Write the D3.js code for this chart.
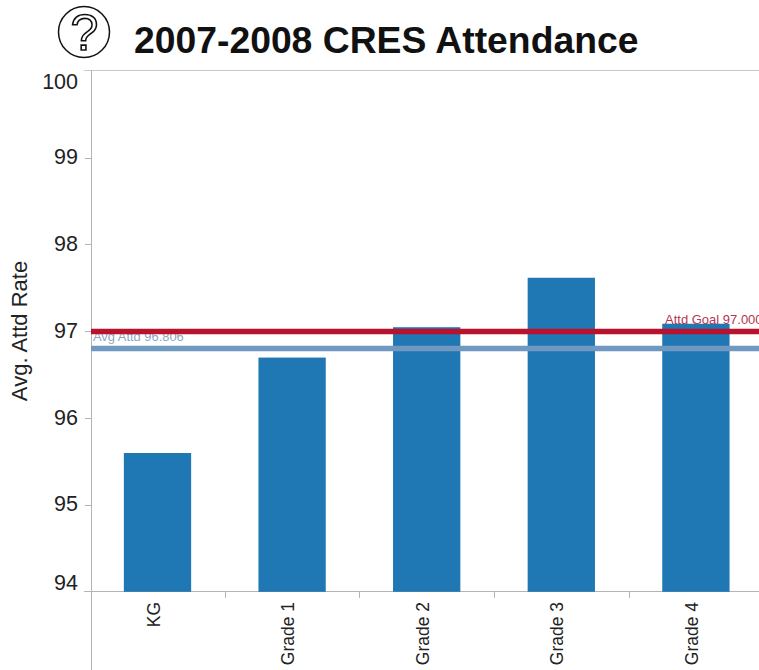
<!DOCTYPE html>
<html><head><meta charset="utf-8">
<script src="https://cdn.jsdelivr.net/npm/d3@7/dist/d3.min.js"></script>
<style>html,body{margin:0;padding:0;background:#fff;overflow:hidden}svg{display:block}text{font-family:"Liberation Sans",Arial,sans-serif}</style>
</head><body><svg id="c" width="759" height="670"></svg>
<script>
const categories = ["KG","Grade 1","Grade 2","Grade 3","Grade 4"];
const attendance = [95.6,96.7,97.05,97.62,97.09];
const yTicks = [94,95,96,97,98,99,100];
const goalValue = 97.0, avgValue = 96.806;
const goalLabel = "Attd Goal 97.000", avgLabel = "Avg Attd 96.806";
const titleText = "2007-2008 CRES Attendance", yTitle = "Avg. Attd Rate";

const svg = d3.select("#c");
const x0 = 90.2, step = 134.6;
const x = d3.scaleBand().domain(categories).range([x0, x0 + step*categories.length]).paddingInner(0.5).paddingOuter(0.25);
const y = d3.scaleLinear().domain([94,100]).range([591.8,71.3]);
const axisCol = "#b4b4b4", textCol = "#222";

// icon and title
svg.append("circle").attr("cx",84).attr("cy",32).attr("r",25.5).attr("fill","none").attr("stroke","#111").attr("stroke-width",1.5);
svg.append("text").attr("x",84.5).attr("y",50).attr("text-anchor","middle").attr("font-size",50).attr("fill","#fff").attr("stroke","#111").attr("stroke-width",1.6).text("?");
svg.append("text").attr("x",134).attr("y",53).attr("font-size",37.3).attr("font-weight","bold").attr("fill","#111").text(titleText);

// frame lines
svg.append("line").attr("x1",84).attr("x2",759).attr("y1",70.5).attr("y2",70.5).attr("stroke","#c8c8c8");
svg.append("line").attr("x1",91.5).attr("x2",91.5).attr("y1",70).attr("y2",670).attr("stroke",axisCol);
svg.append("line").attr("x1",84).attr("x2",759).attr("y1",591.5).attr("y2",591.5).attr("stroke",axisCol);

// y ticks
const yg = svg.append("g");
yTicks.forEach(t=>{
  const py = y(t) - 0.4;
  if(t<100) yg.append("line").attr("x1",85).attr("x2",91).attr("y1",Math.round(py)+.5).attr("y2",Math.round(py)+.5).attr("stroke",axisCol);
  yg.append("text").attr("x",78).attr("y",t===100?89:(t===94?590:py+6.8)).attr("text-anchor","end").attr("font-size",21.5).attr("fill",textCol).text(t);
});

// x ticks, labels
categories.forEach((c,i)=>{
  const tx = Math.round(x0 + step*(i+1))+.5;
  svg.append("line").attr("x1",tx).attr("x2",tx).attr("y1",591).attr("y2",598).attr("stroke",axisCol);
  svg.append("text").attr("transform",`translate(${x(c)+x.bandwidth()/2+2},602) rotate(-90)`).attr("text-anchor","end").attr("font-size",17.5).attr("fill",textCol).text(c);
});

// bars
svg.append("g").selectAll("rect").data(attendance).join("rect")
  .attr("x",(d,i)=>x(categories[i])).attr("width",x.bandwidth())
  .attr("y",d=>y(d)).attr("height",d=>y(94)-y(d)).attr("fill","#1f77b4");

// y title
svg.append("text").attr("transform","translate(27,331) rotate(-90)").attr("text-anchor","middle").attr("font-size",22).attr("fill",textCol).text(yTitle);

// reference lines
svg.append("text").attr("x",93).attr("y",341).attr("font-size",12.9).attr("fill","#8ea6c2").text(avgLabel);
svg.append("text").attr("x",665).attr("y",324).attr("font-size",13).attr("fill","#b5364e").text(goalLabel);
svg.append("line").attr("x1",91).attr("x2",759).attr("y1",y(avgValue)).attr("y2",y(avgValue)).attr("stroke","#7099c2").attr("stroke-width",5.5);
svg.append("line").attr("x1",91).attr("x2",759).attr("y1",y(goalValue)).attr("y2",y(goalValue)).attr("stroke","#b8122c").attr("stroke-width",5.5);
</script></body></html>
